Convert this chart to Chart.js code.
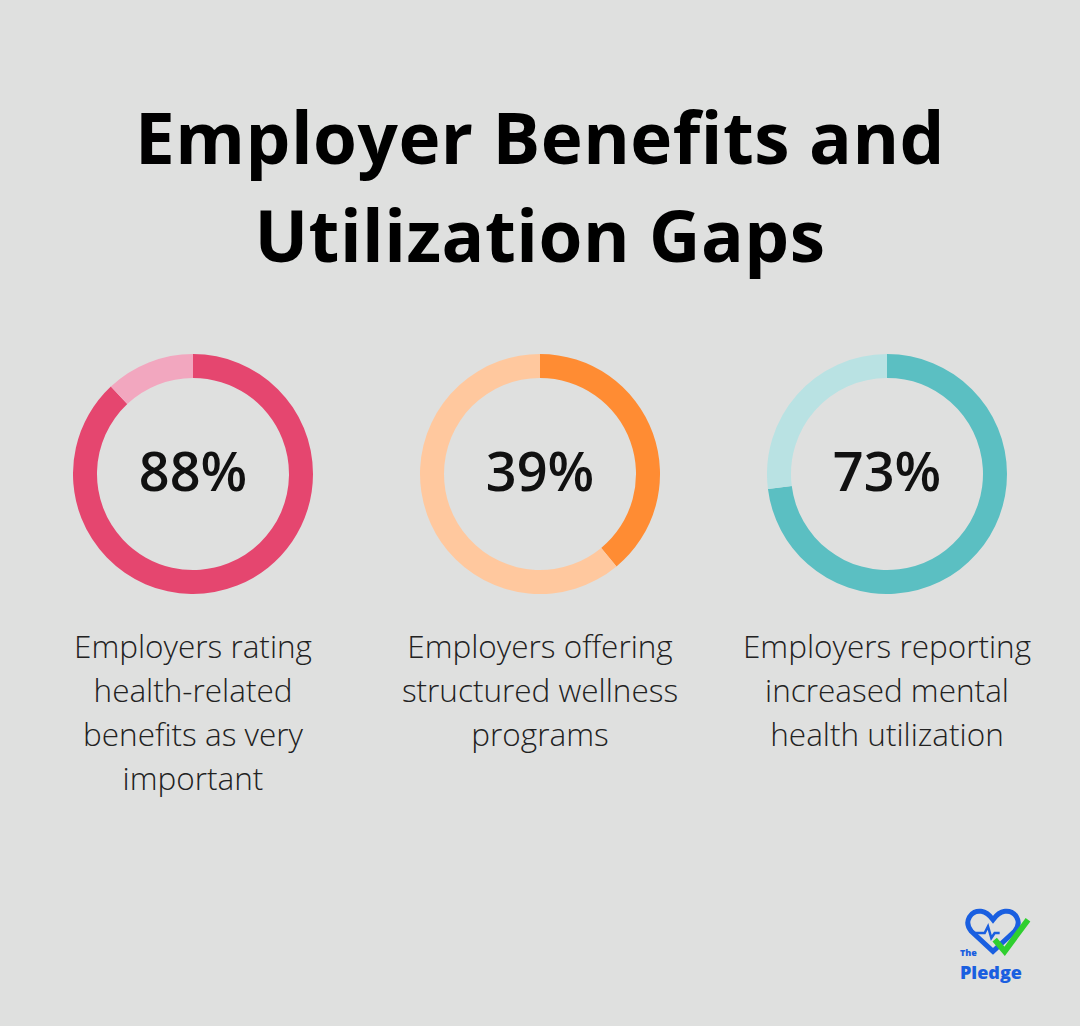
<!DOCTYPE html>
<html><head><meta charset="utf-8">
<script src="https://cdn.jsdelivr.net/npm/chart.js@4"></script>
<style>
body{margin:0;width:1080px;height:1026px;background:#dfe0df;font-family:"Open Sans",sans-serif;position:relative;overflow:hidden}
h1{position:absolute;top:88px;left:0;width:1080px;margin:0;text-align:center;font-size:71px;font-weight:700;line-height:98px;color:#000;letter-spacing:0.5px}
.d{position:absolute;top:354px;width:240px;height:240px}
.v{position:absolute;top:-4px;left:0;width:240px;height:240px;line-height:240px;text-align:center;font-size:54px;font-weight:600;color:#111}
.l{position:absolute;top:624px;width:360px;text-align:center;font-size:31.5px;line-height:44px;color:#222;font-weight:300}
</style></head><body>
<h1>Employer Benefits and<br>Utilization Gaps</h1>
<div id="wrap"></div>
<div style="position:absolute;left:958px;top:908px;width:80px;height:76px">
<svg width="80" height="50" viewBox="0 0 80 60" style="position:absolute;top:0;left:0"><path d="M34 52 L8 28 C-2 16 8 2 20 4 C27 5 31 10 34 14 C37 10 41 5 48 4 C60 2 70 16 60 28 Z" fill="none" stroke="#1a5fe0" stroke-width="6"/><path d="M12 30 H24 L28 22 L32 36 L36 30 H42" fill="none" stroke="#1a5fe0" stroke-width="3"/><path d="M36 38 L48 52 L76 14" fill="none" stroke="#2fcf2f" stroke-width="7"/></svg>
<div style="position:absolute;top:40px;left:2px;font-size:9px;line-height:10px;color:#1a5fe0;font-weight:800">The</div>
<div style="position:absolute;top:54px;left:2px;font-size:18px;line-height:20px;color:#1a5fe0;font-weight:800">Pledge</div>
</div>
<script>
const values=[88,39,73];
const labelLines=[["Employers rating","health-related","benefits as very","important"],["Employers offering","structured wellness","programs"],["Employers reporting","increased mental","health utilization"]];
const mainColors=["#e5466f","#ff8c33","#5bbfc2"];
const lightColors=["#f2a7bf","#ffc89e","#b9e2e3"];
const centers=[193,540,887];
const wrap=document.getElementById('wrap');
values.forEach((v,i)=>{
  const d=document.createElement('div');d.className='d';d.style.left=(centers[i]-120)+'px';
  const c=document.createElement('canvas');d.appendChild(c);
  const t=document.createElement('div');t.className='v';t.textContent=v+'%';d.appendChild(t);
  wrap.appendChild(d);
  const l=document.createElement('div');l.className='l';l.style.left=(centers[i]-180)+'px';l.innerHTML=labelLines[i].join('<br>');wrap.appendChild(l);
  new Chart(c,{type:'doughnut',data:{labels:['Yes','No'],datasets:[{data:[v,100-v],backgroundColor:[mainColors[i],lightColors[i]],borderWidth:0}]},
    options:{responsive:true,maintainAspectRatio:false,cutout:'80%',animation:false,plugins:{legend:{display:false},tooltip:{enabled:false}}}});
});
</script>
</body></html>
